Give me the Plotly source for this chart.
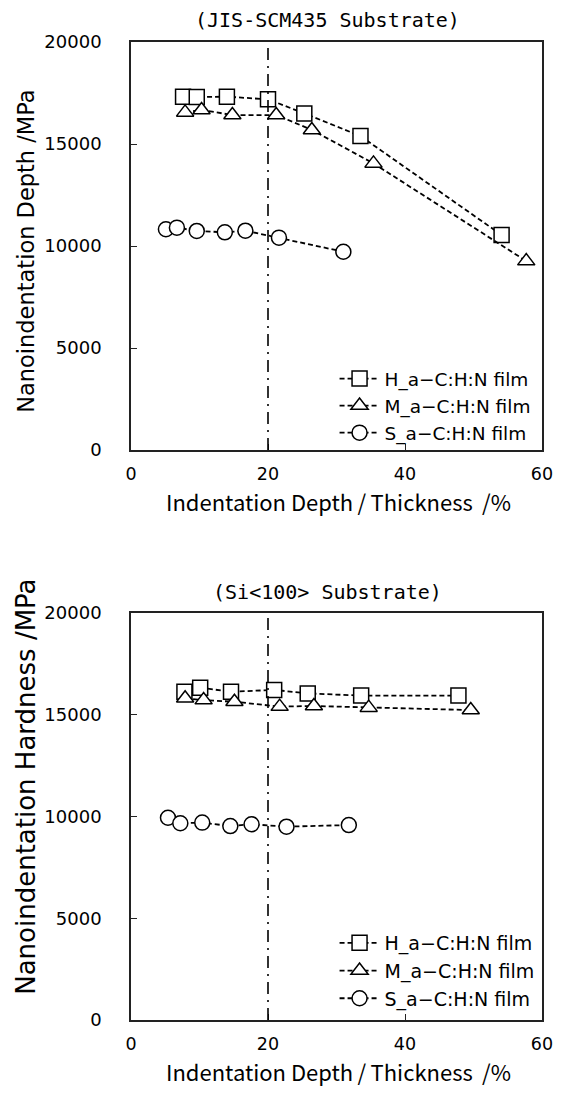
import plotly.graph_objects as go

# ---- data ---------------------------------------------------------------
series_names = ["H_a\u2212C:H:N film", "M_a\u2212C:H:N film", "S_a\u2212C:H:N film"]

# JIS-SCM435 substrate
scm_h_x = [7.6, 9.6, 14.0, 20.0, 25.3, 33.5, 54.1]
scm_h_y = [17320, 17300, 17320, 17190, 16500, 15390, 10540]
scm_m_x = [7.9, 10.3, 14.8, 21.2, 26.4, 35.4, 57.7]
scm_m_y = [16550, 16670, 16420, 16420, 15690, 14050, 9260]
scm_s_x = [5.1, 6.7, 9.6, 13.7, 16.7, 21.6, 31.0]
scm_s_y = [10820, 10900, 10740, 10670, 10750, 10410, 9720]

# Si<100> substrate
si_h_x = [7.8, 10.1, 14.6, 20.9, 25.8, 33.6, 47.8]
si_h_y = [16130, 16330, 16130, 16220, 16050, 15940, 15940]
si_m_x = [7.9, 10.6, 15.1, 21.7, 26.7, 34.7, 49.6]
si_m_y = [15810, 15720, 15640, 15400, 15430, 15350, 15230]
si_s_x = [5.4, 7.2, 10.4, 14.5, 17.6, 22.7, 31.8]
si_s_y = [9940, 9670, 9700, 9530, 9620, 9500, 9580]

ratio_limit = 20  # indentation depth / thickness reference line (%)

x_ticks = [0, 20, 40, 60]
y_ticks = [0, 5000, 10000, 15000, 20000]

x_title = "Indentation Depth\u2009/\u2009Thickness \u2009/%"

# ---- geometry helpers ----------------------------------------------------
W, H = 564, 1093
ML, MR, MT, MB = 131, 11, 42, 73
PW, PH = W - ML - MR, H - MT - MB


def px(x):
    return (x - ML) / PW


def py(y):
    return (H - MB - y) / PH


SANS = "DejaVu Sans"
symbols = ["square", "triangle-up", "circle"]

fig = go.Figure()


def add_series(xs, ys, name, symbol, xa, ya, legend):
    fig.add_trace(go.Scatter(
        x=xs, y=ys, name=name, mode="lines+markers",
        xaxis=xa, yaxis=ya, legend=legend,
        line=dict(color="black", width=1.8, dash="5px,3px"),
        marker=dict(symbol=symbol, size=15, color="white",
                    line=dict(color="black", width=1.5)),
    ))


add_series(scm_h_x, scm_h_y, series_names[0], symbols[0], "x", "y", "legend")
add_series(scm_m_x, scm_m_y, series_names[1], symbols[1], "x", "y", "legend")
add_series(scm_s_x, scm_s_y, series_names[2], symbols[2], "x", "y", "legend")
add_series(si_h_x, si_h_y, series_names[0], symbols[0], "x2", "y2", "legend2")
add_series(si_m_x, si_m_y, series_names[1], symbols[1], "x2", "y2", "legend2")
add_series(si_s_x, si_s_y, series_names[2], symbols[2], "x2", "y2", "legend2")

# dash-dot reference line at 20 %
for xr, yr in (("x", "y domain"), ("x2", "y2 domain")):
    fig.add_shape(type="line", xref=xr, yref=yr, x0=ratio_limit, x1=ratio_limit,
                  y0=0, y1=1, layer="above",
                  line=dict(color="black", width=1.6, dash="12px,6px,2px,6px"))

axis_common = dict(showline=True, mirror=True, linecolor="#222", linewidth=1.6,
                   ticks="inside", ticklen=6, tickcolor="#222", tickwidth=1.3,
                   showgrid=False, zeroline=False,
                   tickfont=dict(family=SANS, size=18, color="black"))
x_tickfont = dict(family=SANS, size=17.5, color="black")

top_dom = [py(450), py(42)]
bot_dom = [py(1020), py(613)]

fig.update_layout(
    width=W, height=H,
    margin=dict(l=ML, r=MR, t=MT, b=MB),
    paper_bgcolor="white", plot_bgcolor="white",
    xaxis=dict(axis_common, domain=[0, 1], anchor="y", range=[0, 60],
               tickvals=x_ticks, ticklabelstandoff=7, tickfont=x_tickfont),
    yaxis=dict(axis_common, domain=top_dom, anchor="x", range=[0, 20000],
               tickvals=y_ticks, tickformat="d", ticklabelstandoff=24),
    xaxis2=dict(axis_common, domain=[0, 1], anchor="y2", range=[0, 60],
                tickvals=x_ticks, ticklabelstandoff=7, tickfont=x_tickfont),
    yaxis2=dict(axis_common, domain=bot_dom, anchor="x2", range=[0, 20000],
                tickvals=y_ticks, tickformat="d", ticklabelstandoff=24),
    legend=dict(x=px(340), y=py(360), xanchor="left", yanchor="top",
                bgcolor="rgba(0,0,0,0)", itemwidth=40,
                font=dict(family=SANS, size=18.5, color="black")),
    legend2=dict(x=px(340), y=py(924), xanchor="left", yanchor="top",
                 bgcolor="rgba(0,0,0,0)", itemwidth=40,
                 font=dict(family=SANS, size=19, color="black")),
)

annotations = [
    dict(text="(JIS-SCM435 Substrate)", x=px(333), y=py(20),
         font=dict(family="DejaVu Sans Mono", size=20, color="black")),
    dict(text="(Si<100> Substrate)", x=px(333), y=py(592),
         font=dict(family="DejaVu Sans Mono", size=20, color="black")),
    dict(text=x_title, x=px(344), y=py(501),
         font=dict(family="Noto Sans CJK JP", size=22, color="black")),
    dict(text=x_title, x=px(344), y=py(1071),
         font=dict(family="Noto Sans CJK JP", size=22, color="black")),
    dict(text="Nanoindentation Depth /MPa", x=px(23), y=py(251), textangle=-90,
         font=dict(family=SANS, size=22.5, color="black")),
    dict(text="Nanoindentation Hardness /MPa", x=px(23), y=py(787), textangle=-90,
         font=dict(family=SANS, size=26, color="black")),
]
for a in annotations:
    fig.add_annotation(xref="paper", yref="paper", showarrow=False,
                       xanchor="center", yanchor="middle", **a)

fig.write_html("out.html")
